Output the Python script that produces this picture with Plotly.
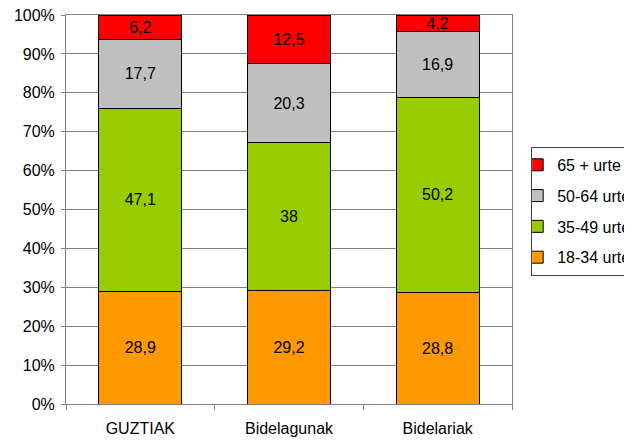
import plotly.graph_objects as go

categories = ["GUZTIAK", "Bidelagunak", "Bidelariak"]
series_names = ["18-34 urte", "35-49 urte", "50-64 urte", "65 + urte"]
v_18_34 = [28.9, 29.2, 28.8]
v_35_49 = [47.1, 38.0, 50.2]
v_50_64 = [17.7, 20.3, 16.9]
v_65 = [6.2, 12.5, 4.2]
tick_vals = [0, 10, 20, 30, 40, 50, 60, 70, 80, 90, 100]
tick_text = ["0%", "10%", "20%", "30%", "40%", "50%", "60%", "70%", "80%", "90%", "100%"]

colors = ["#FF9900", "#99CC00", "#C0C0C0", "#FF0000"]
series_values = [v_18_34, v_35_49, v_50_64, v_65]


def fmt(v):
    s = ("%g" % v)
    return s.replace(".", ",")


fig = go.Figure()
for i, (name, vals, col) in enumerate(zip(series_names, series_values, colors)):
    fig.add_trace(go.Bar(
        x=categories, y=vals, name=name,
        marker=dict(color=col, line=dict(color="black", width=1)),
        width=0.56,
        text=[fmt(v) for v in vals],
        textposition="inside",
        insidetextanchor="middle",
        textangle=0,
        textfont=dict(family="Liberation Sans, Arial", size=16, color="black"),
        legendgroup=name,
        legendrank=10 - i,
    ))

fig.update_layout(
    barmode="stack",
    barnorm="percent",
    width=624, height=433,
    margin=dict(l=58, r=120, t=7, b=37, autoexpand=False),
    paper_bgcolor="white", plot_bgcolor="white",
    font=dict(family="Liberation Sans, Arial", size=15, color="black"),
    uniformtext=dict(minsize=16, mode="show"),
    showlegend=True,
    legend=dict(
        x=1.043, xanchor="left", y=0.661, yanchor="top",
        traceorder="grouped", tracegroupgap=7, itemwidth=30, indentation=-15,
        bordercolor="#404040", borderwidth=1,
        font=dict(family="Liberation Sans, Arial", size=16, color="black"),
        bgcolor="white",
    ),
    xaxis=dict(
        showline=True, linecolor="#808080", linewidth=1, mirror=True,
        ticks="outside", tickson="boundaries", ticklen=5, tickcolor="#808080",
        tickfont=dict(size=16), showgrid=False, automargin=False,
        ticklabelstandoff=10, ticklabeloverflow="allow",
    ),
    yaxis=dict(
        range=[0, 100], tickmode="array", tickvals=tick_vals, ticktext=tick_text,
        showline=True, linecolor="#808080", linewidth=1, mirror=True,
        ticks="outside", ticklen=4, tickcolor="#808080",
        showgrid=True, gridcolor="#808080", gridwidth=1,
        tickfont=dict(size=16), zeroline=False, automargin=False,
        ticklabelstandoff=3, ticklabeloverflow="allow",
    ),
)

fig.write_html("out.html")
